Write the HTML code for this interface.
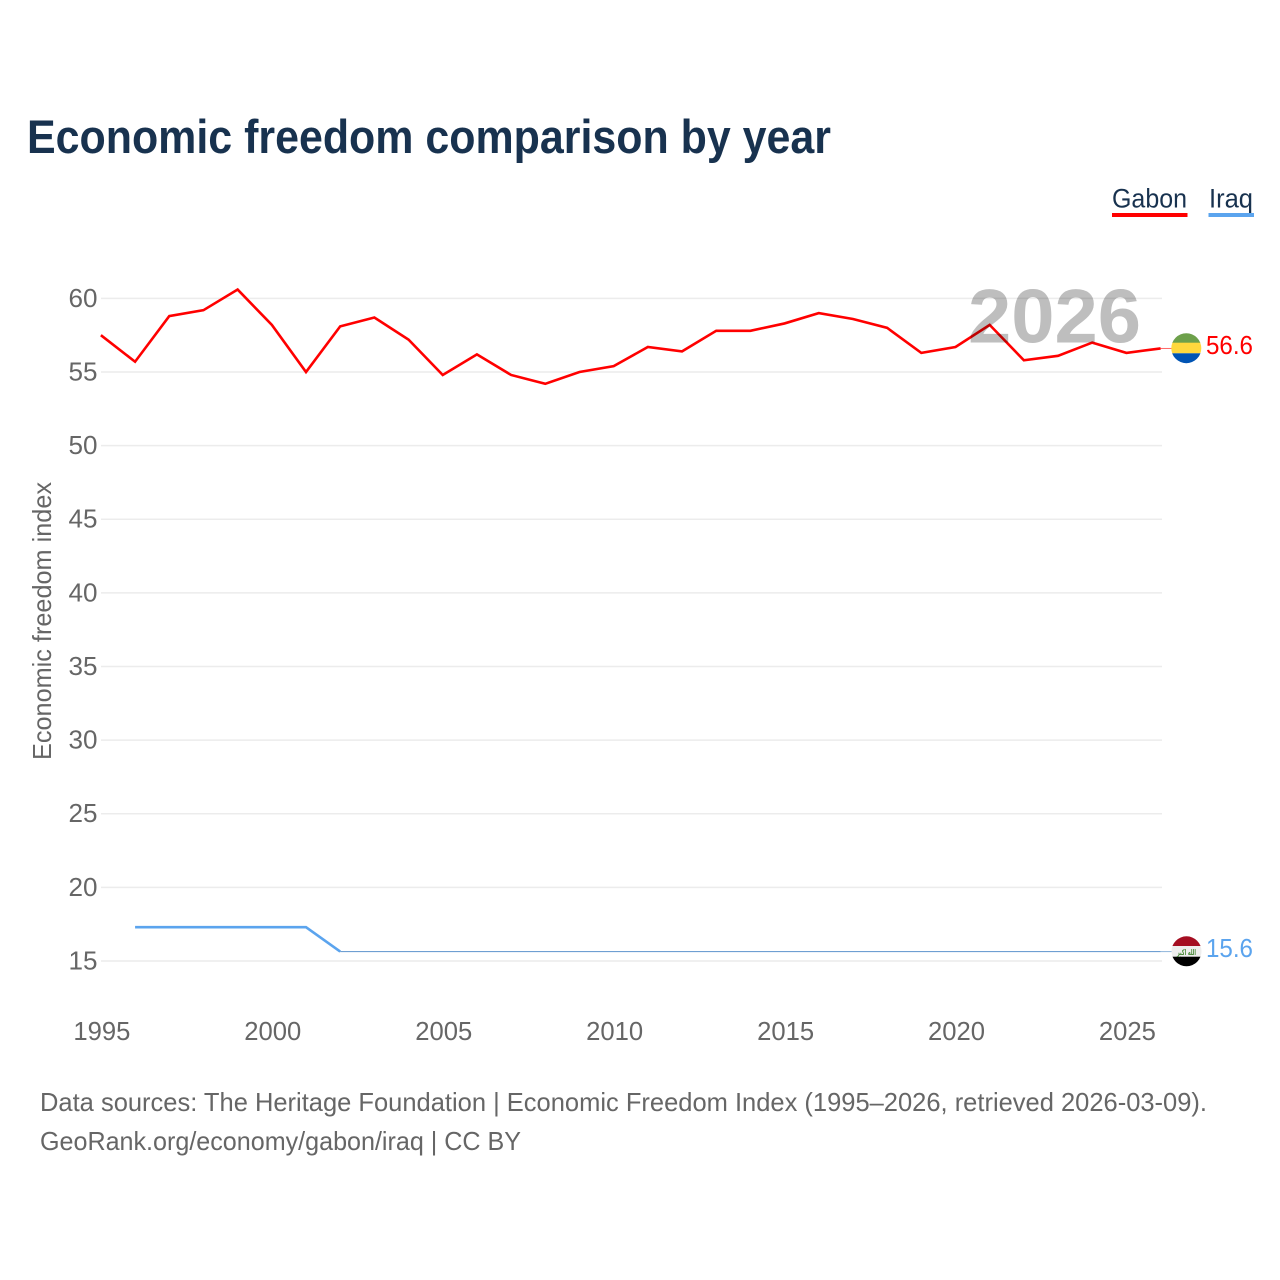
<!DOCTYPE html>
<html lang="en">
<head>
<meta charset="utf-8">
<title>Economic freedom comparison by year</title>
<style>
html,body{margin:0;padding:0;background:#fff;}
svg{display:block;}
text{font-family:"Liberation Sans",sans-serif;}
.tick{font-size:25.6px;fill:#666;}
.note{font-size:26px;fill:#666;}
</style>
</head>
<body>
<svg id="chart" xmlns="http://www.w3.org/2000/svg" width="1280" height="1280" viewBox="0 0 1280 1280">
  <defs>
    <clipPath id="clip-gabon"><circle cx="1186.300" cy="348.200" r="15"/></clipPath>
    <clipPath id="clip-iraq"><circle cx="1186.500" cy="951.300" r="15"/></clipPath>
  </defs>
  <rect width="1280" height="1280" fill="#fff"/>
  <text x="27" y="153" font-size="47" font-weight="700" fill="#18324f" textLength="804" lengthAdjust="spacingAndGlyphs">Economic freedom comparison by year</text>

  <g>
    <text x="1112" y="207.500" font-size="27" fill="#18324f" textLength="75" lengthAdjust="spacingAndGlyphs">Gabon</text>
    <rect x="1112" y="213" width="75.500" height="4" fill="#ff0000"/>
  </g>
  <g>
    <text x="1209" y="207.500" font-size="27" fill="#18324f" textLength="44" lengthAdjust="spacingAndGlyphs">Iraq</text>
    <rect x="1208.500" y="213" width="45.500" height="4" fill="#5ba4ee"/>
  </g>

  <g id="grid"></g>
  <g id="yticks"></g>
  <g id="xticks"></g>
  <text class="tick" transform="translate(51,760) rotate(-90)" x="0" y="0" textLength="278" lengthAdjust="spacingAndGlyphs">Economic freedom index</text>

  <g id="series"></g>

  <text x="968" y="342.500" font-size="76" font-weight="700" fill="#bebebe" textLength="173" lengthAdjust="spacingAndGlyphs" style="mix-blend-mode:multiply">2026</text>

  <g clip-path="url(#clip-gabon)">
    <rect x="1170" y="332" width="33" height="11" fill="#6da04b"/>
    <rect x="1170" y="342.700" width="33" height="10.600" fill="#ffd83d"/>
    <rect x="1170" y="353.300" width="33" height="11" fill="#0054b4"/>
  </g>
  <g clip-path="url(#clip-iraq)">
    <rect x="1170" y="935" width="33" height="11" fill="#a50e22"/>
    <rect x="1170" y="946" width="33" height="10.700" fill="#eeeeee"/>
    <rect x="1170" y="956.700" width="33" height="11" fill="#000"/>
    <text x="1177" y="955" font-size="8" font-weight="700" fill="#4a8a3a" textLength="19" lengthAdjust="spacingAndGlyphs" style="font-family:'DejaVu Sans',sans-serif">الله اكبر</text>
  </g>
  <text id="label-gabon" x="1206" y="354" font-size="25.600" fill="#ff0000" textLength="47" lengthAdjust="spacingAndGlyphs"></text>
  <text id="label-iraq" x="1206" y="957" font-size="25.600" fill="#5ba4ee" textLength="47" lengthAdjust="spacingAndGlyphs"></text>

  <text class="note" x="40" y="1111" textLength="1167" lengthAdjust="spacingAndGlyphs">Data sources: The Heritage Foundation | Economic Freedom Index (1995–2026, retrieved 2026-03-09).</text>
  <text class="note" x="40" y="1150" textLength="481" lengthAdjust="spacingAndGlyphs">GeoRank.org/economy/gabon/iraq | CC BY</text>
</svg>
<script>
const yearTicks = [1995, 2000, 2005, 2010, 2015, 2020, 2025];
const valueTicks = [15, 20, 25, 30, 35, 40, 45, 50, 55, 60];
const gabonYears = [1995,1996,1997,1998,1999,2000,2001,2002,2003,2004,2005,2006,2007,2008,2009,2010,2011,2012,2013,2014,2015,2016,2017,2018,2019,2020,2021,2022,2023,2024,2025,2026];
const gabonValues = [57.5,55.7,58.8,59.2,60.6,58.2,55.0,58.1,58.7,57.2,54.8,56.2,54.8,54.2,55.0,55.4,56.7,56.4,57.8,57.8,58.3,59.0,58.6,58.0,56.3,56.7,58.2,55.8,56.1,57.0,56.3,56.6];
const iraqEarlyYears = [1996,1997,1998,1999,2000,2001,2002];
const iraqEarlyValues = [17.3,17.3,17.3,17.3,17.3,17.3,15.64];
const iraqLateYears = [2002,2003,2004,2005,2006,2007,2008,2009,2010,2011,2012,2013,2014,2015,2016,2017,2018,2019,2020,2021,2022,2023,2024,2025,2026];
const iraqLateValues = [15.64,15.64,15.64,15.64,15.64,15.64,15.64,15.64,15.64,15.64,15.64,15.64,15.64,15.64,15.64,15.64,15.64,15.64,15.64,15.64,15.64,15.64,15.64,15.64,15.64];

const NS = 'http://www.w3.org/2000/svg';
function xScale(year) { return 100.9 + (year - 1995) * 34.184; }
function yScale(value) { return 298.4 + (60 - value) * 14.725; }
function make(tag, attrs, parent) {
  const node = document.createElementNS(NS, tag);
  for (const key in attrs) node.setAttribute(key, attrs[key]);
  parent.appendChild(node);
  return node;
}
function pointsOf(years, values) {
  return years.map((y, i) => xScale(y).toFixed(2) + ',' + yScale(values[i]).toFixed(2)).join(' ');
}
const gridGroup = document.getElementById('grid');
const yGroup = document.getElementById('yticks');
const xGroup = document.getElementById('xticks');
const seriesGroup = document.getElementById('series');

valueTicks.forEach(function (v) {
  const line = make('line', {x1: 101, x2: 1162, y1: yScale(v), y2: yScale(v), stroke: '#ececec', 'stroke-width': 1.5}, gridGroup);
  
  
  const label = make('text', {x: 97.5, y: yScale(v) + 8.4, 'text-anchor': 'end', class: 'tick', textLength: 29, lengthAdjust: 'spacingAndGlyphs'}, yGroup);
  label.textContent = String(v);
  
  
});
yearTicks.forEach(function (yr) {
  const label = make('text', {x: xScale(yr) + 1, y: 1040, 'text-anchor': 'middle', class: 'tick', textLength: 57, lengthAdjust: 'spacingAndGlyphs'}, xGroup);
  label.textContent = String(yr);
  
  
});

const gabonEnd = gabonValues[gabonValues.length - 1];
const iraqEnd = iraqLateValues[iraqLateValues.length - 1];

const gabonLink = make('line', {x1: xScale(2026), x2: 1172, y1: yScale(gabonEnd), y2: yScale(gabonEnd), stroke: '#ff6666', 'stroke-width': 1}, seriesGroup);


const iraqLink = make('line', {x1: xScale(2026), x2: 1172, y1: yScale(iraqEnd), y2: yScale(iraqEnd), stroke: '#8fb4da', 'stroke-width': 1}, seriesGroup);



const gabonLine = make('polyline', {points: pointsOf(gabonYears, gabonValues), fill: 'none', stroke: '#ff0000', 'stroke-width': 2.6, 'stroke-linejoin': 'miter'}, seriesGroup);


const iraqEarly = make('polyline', {points: pointsOf(iraqEarlyYears, iraqEarlyValues), fill: 'none', stroke: '#5ba4ee', 'stroke-width': 2.6}, seriesGroup);


const iraqLate = make('polyline', {points: pointsOf(iraqLateYears, iraqLateValues), fill: 'none', stroke: '#6f9fd2', 'stroke-width': 1.1}, seriesGroup);



document.getElementById('label-gabon').textContent = gabonEnd.toFixed(1);
document.getElementById('label-iraq').textContent = iraqEnd.toFixed(1);
</script>
</body>
</html>
